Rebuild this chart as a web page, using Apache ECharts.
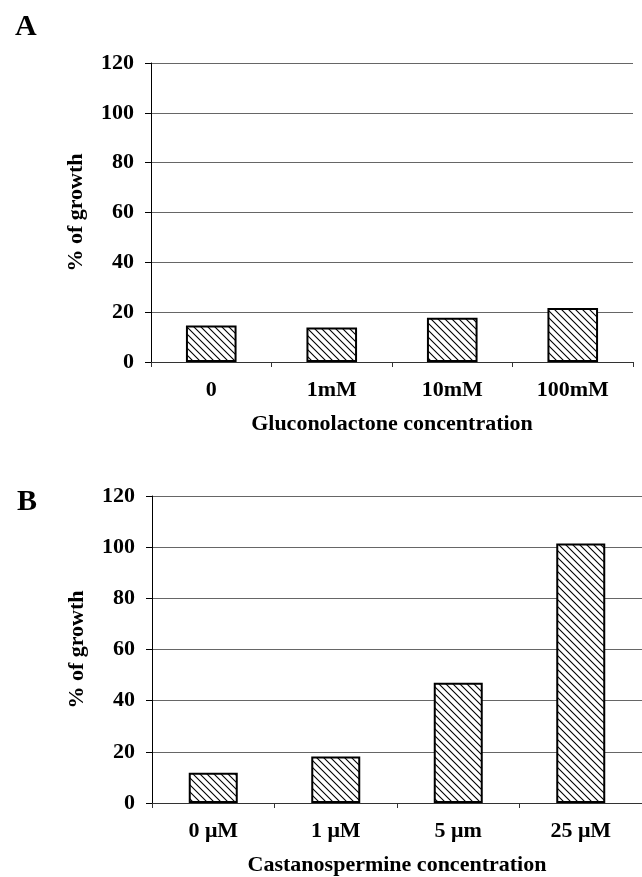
<!DOCTYPE html>
<html>
<head>
<meta charset="utf-8">
<script src="https://cdn.jsdelivr.net/npm/echarts@6/dist/echarts.min.js"></script>
<style>
  html, body { margin: 0; padding: 0; background: #fff; }
  #chart { width: 642px; height: 877px; }
</style>
</head>
<body>
<div id="chart"></div>
<script>
const catsA = ["0", "1mM", "10mM", "100mM"]
const growthA = [14.6, 13.8, 17.8, 21.7]
const catsB = ["0 μM", "1 μM", "5 μm", "25 μM"]
const growthB = [11.8, 18.2, 47.0, 101.4]
const yMin = 0
const yMax = 120
const yStep = 20

const font = "Liberation Serif"

// hatch tile: thin black "\" lines
function hatch() {
  const s = 7
  const c = document.createElement("canvas")
  c.width = s
  c.height = s
  const ctx = c.getContext("2d")
  ctx.fillStyle = "#fff"
  ctx.fillRect(0, 0, s, s)
  ctx.strokeStyle = "#000"
  ctx.lineWidth = 1.1
  ctx.beginPath()
  ctx.moveTo(-1, -1)
  ctx.lineTo(s + 1, s + 1)
  ctx.moveTo(-1, s - 1)
  ctx.lineTo(1, s + 1)
  ctx.moveTo(s - 1, -1)
  ctx.lineTo(s + 1, 1)
  ctx.stroke()
  return c
}

const pattern = { image: hatch(), repeat: "repeat" }

const labelText = { fontFamily: font, fontWeight: "bold", fontSize: 22, color: "#000" }

function xAx(idx, cats, name) {
  return {
    type: "category",
    gridIndex: idx,
    data: cats,
    name: name,
    nameLocation: "middle",
    nameGap: 51,
    nameTextStyle: labelText,
    axisLine: { lineStyle: { color: "#333", width: 1 } },
    axisTick: { show: true, length: 5, lineStyle: { color: "#333" } },
    axisLabel: Object.assign({ margin: 17 }, labelText),
  }
}

function yAx(idx) {
  return {
    type: "value",
    gridIndex: idx,
    min: yMin,
    max: yMax,
    interval: yStep,
    name: "% of growth",
    nameLocation: "middle",
    nameGap: 64,
    nameTextStyle: labelText,
    axisLine: { show: true, lineStyle: { color: "#000", width: 1 } },
    axisTick: { show: true, length: 6, lineStyle: { color: "#000" } },
    axisLabel: Object.assign({ margin: 17 }, labelText),
    splitLine: { lineStyle: { color: "#666", width: 1 } },
  }
}

const chart = echarts.init(document.getElementById("chart"), null, { renderer: "canvas" })

const option = {
  animation: false,
  backgroundColor: "#fff",
  title: [
    { text: "A", left: 10, top: 7, textStyle: { fontFamily: font, fontWeight: "bold", fontSize: 30, color: "#000" } },
    { text: "B", left: 12, top: 482, textStyle: { fontFamily: font, fontWeight: "bold", fontSize: 30, color: "#000" } },
  ],
  grid: [
    { left: 151, right: 9, top: 63, height: 299 },
    { left: 152, right: 0, top: 496, height: 308 },
  ],
  xAxis: [xAx(0, catsA, "Gluconolactone concentration"), xAx(1, catsB, "Castanospermine concentration")],
  yAxis: [yAx(0), yAx(1)],
  series: [
    {
      type: "bar",
      xAxisIndex: 0,
      yAxisIndex: 0,
      data: growthA,
      barWidth: "42%",
      itemStyle: { color: pattern, borderColor: "#000", borderWidth: 2 },
    },
    {
      type: "bar",
      xAxisIndex: 1,
      yAxisIndex: 1,
      data: growthB,
      barWidth: "40%",
      itemStyle: { color: pattern, borderColor: "#000", borderWidth: 2 },
    },
  ],
}

chart.setOption(option)
</script>
</body>
</html>
